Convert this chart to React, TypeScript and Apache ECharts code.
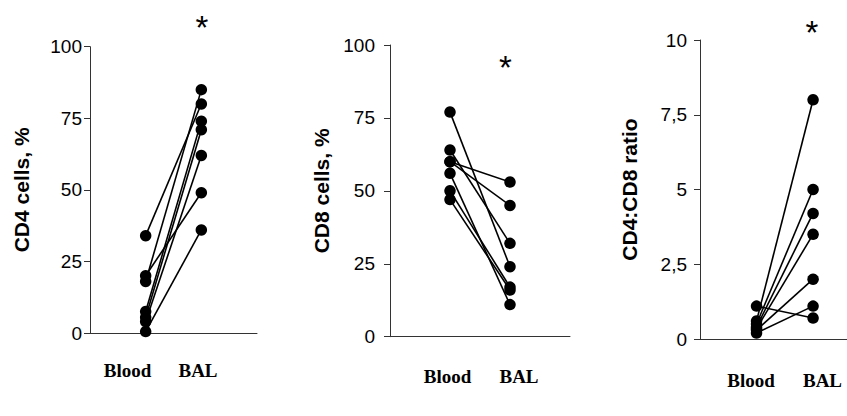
import React, { useEffect, useRef } from "react";
import * as echarts from "echarts";

const groups = ["Blood", "BAL"];
const cd4Blood = [34, 20, 18, 7.5, 5.5, 4, 0.5];
const cd4Bal = [80, 49, 85, 74, 71, 62, 36];
const cd8Blood = [77, 64, 60, 60, 56, 50, 47];
const cd8Bal = [24, 32, 53, 45, 11, 17, 16];
const ratioBlood = [1.1, 0.6, 0.5, 0.4, 0.35, 0.3, 0.2];
const ratioBal = [0.7, 8.0, 5.0, 4.2, 3.5, 2.0, 1.1];
const axisTitles = ["CD4 cells, %", "CD8 cells, %", "CD4:CD8 ratio"];
const percentTicks = [0, 25, 50, 75, 100];
const ratioTicks = [0, 2.5, 5, 7.5, 10];

const panels = [
  { blood: cd4Blood, bal: cd4Bal, max: 100, interval: 25 },
  { blood: cd8Blood, bal: cd8Bal, max: 100, interval: 25 },
  { blood: ratioBlood, bal: ratioBal, max: 10, interval: 2.5 },
];

const grids = [
  { left: 90, top: 46.7, width: 167, height: 286.3, xMax: 3, gap: 58, margin: 8 },
  { left: 390, top: 45, width: 180, height: 291.7, xMax: 3, gap: 58, margin: 15 },
  { left: 700, top: 40, width: 147.4, height: 299, xMax: 2.6, gap: 60, margin: 13 },
];

const groupLabelPos = [
  { y: 370.7, x: [127.5, 198] },
  { y: 376.7, x: [447.5, 519] },
  { y: 380, x: [751, 822.5] },
];
const starPos = [
  { x: 202, y: 27 },
  { x: 505.5, y: 67 },
  { x: 812, y: 32 },
];

export default function App() {
  const ref = useRef<HTMLDivElement>(null);
  useEffect(() => {
    if (!ref.current) return;
    const chart = echarts.init(ref.current, null, { renderer: "svg" });
    const series: any[] = [];
    panels.forEach((p, pi) => {
      p.blood.forEach((b, i) => {
        series.push({
          type: "line",
          xAxisIndex: pi,
          yAxisIndex: pi,
          data: [
            [1, b],
            [2, p.bal[i]],
          ],
          symbol: "circle",
          symbolSize: 11.5,
          lineStyle: { color: "#000", width: 1.6 },
          itemStyle: { color: "#000" },
          emphasis: { disabled: true },
          silent: true,
        });
      });
    });
    const graphic: any[] = [];
    groupLabelPos.forEach((g) => {
      groups.forEach((name, gi) => {
        graphic.push({
          type: "text",
          x: g.x[gi],
          y: g.y,
          style: {
            text: name,
            fill: "#000",
            font: "bold 19px 'Liberation Serif', 'Times New Roman', serif",
            textAlign: "center",
            textVerticalAlign: "middle",
          },
        });
      });
    });
    starPos.forEach((s) => {
      graphic.push({
        type: "text",
        x: s.x,
        y: s.y,
        style: {
          text: "*",
          fill: "#000",
          font: "33px 'Liberation Sans', Arial, sans-serif",
          textAlign: "center",
          textVerticalAlign: "middle",
        },
      });
    });
    chart.setOption({
      animation: false,
      backgroundColor: "#fff",
      grid: grids.map((g) => ({
        left: g.left,
        top: g.top,
        width: g.width,
        height: g.height,
        containLabel: false,
      })),
      xAxis: grids.map((g, i) => ({
        type: "value",
        gridIndex: i,
        min: 0,
        max: g.xMax,
        axisLine: { show: true, onZero: true, lineStyle: { color: "#333", width: 1 } },
        axisTick: { show: false },
        axisLabel: { show: false },
        splitLine: { show: false },
      })),
      yAxis: panels.map((p, i) => ({
        type: "value",
        gridIndex: i,
        min: 0,
        max: p.max,
        interval: p.interval,
        name: axisTitles[i],
        nameLocation: "middle",
        nameGap: grids[i].gap,
        nameRotate: 90,
        nameTextStyle: {
          fontFamily: "'Liberation Sans', Arial, sans-serif",
          fontWeight: "bold",
          fontSize: 21,
          color: "#000",
        },
        axisLine: { show: true, lineStyle: { color: "#333", width: 1 } },
        axisTick: { show: true, length: 6, inside: false, lineStyle: { color: "#333" } },
        axisLabel: {
          margin: grids[i].margin,
          fontFamily: "'Liberation Sans', Arial, sans-serif",
          fontSize: 19,
          color: "#000",
          formatter: (v: number) => {
            const ticks = p.max === 10 ? ratioTicks : percentTicks;
            const t = ticks.find((x) => Math.abs(x - v) < 1e-9);
            return t === undefined ? "" : String(t).replace(".", ",");
          },
        },
        splitLine: { show: false },
      })),
      series,
      graphic,
    });
    return () => chart.dispose();
  }, []);
  return (
    <div
      ref={ref}
      style={{ position: "fixed", left: 0, top: 0, width: 847, height: 416 }}
    />
  );
}
